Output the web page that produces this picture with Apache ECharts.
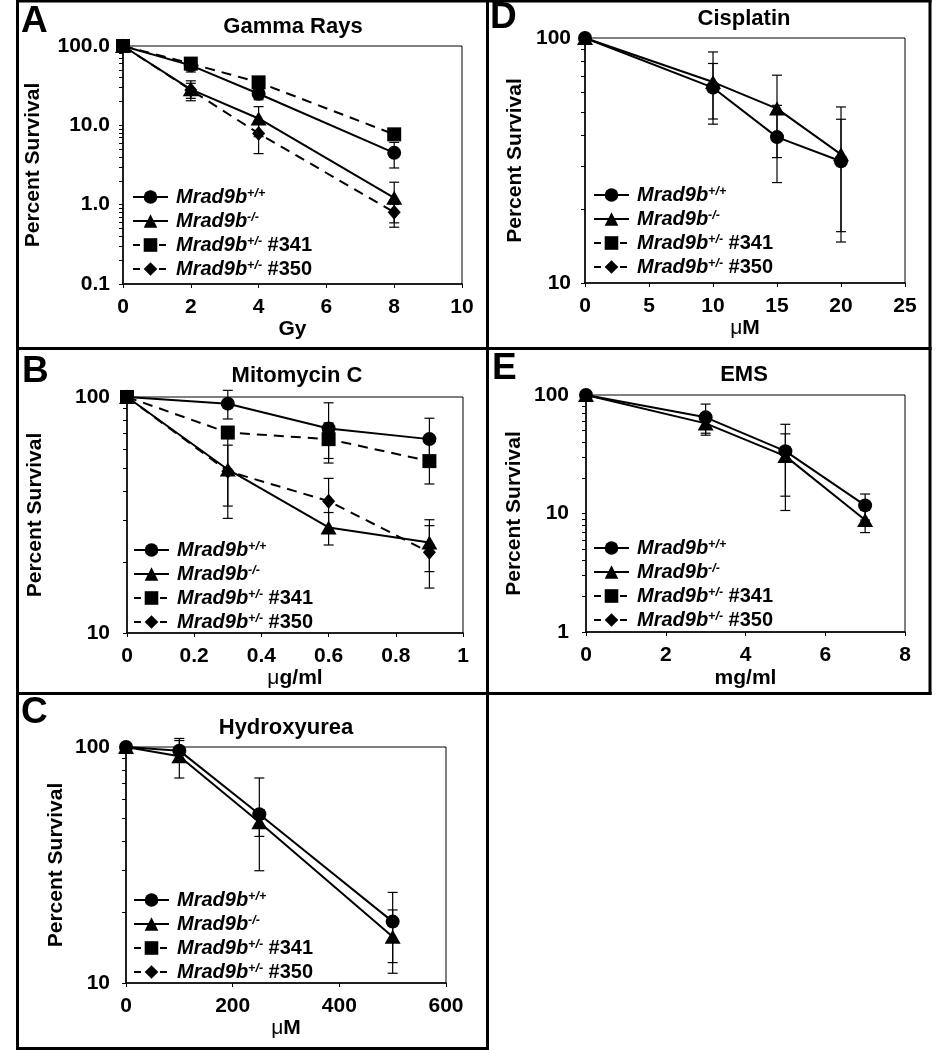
<!DOCTYPE html>
<html><head><meta charset="utf-8">
<script src="https://cdn.jsdelivr.net/npm/echarts@6/dist/echarts.min.js"></script>
<style>html,body{margin:0;padding:0;background:#fff}#c{width:944px;height:1050px}</style>
</head><body><div id="c"></div>
<script>
// ---------- data ----------
const seriesNames = ['Mrad9b+/+', 'Mrad9b-/-', 'Mrad9b+/- #341', 'Mrad9b+/- #350'];

// A: Gamma Rays
const gammaDose = [0, 2, 4, 8];
const gammaWT = [100, 57, 25, 4.5];
const gammaWTErr = [0, 10, 4, 1.6];
const gammaKO = [100, 28.4, 12.2, 1.22];
const gammaKOErr = [0, 8, 5, 0.7];
const gamma341 = [100, 60, 34.8, 7.7];
const gamma341Err = [0, 4, 3, 1];
const gamma350 = [100, 27.9, 7.9, 0.8];
const gamma350Err = [0, 6, 3.5, 0.21];
const gammaXTicks = [0, 2, 4, 6, 8, 10];
const gammaYTicks = [0.1, 1, 10, 100];

// B: Mitomycin C
const mmcDose = [0, 0.3, 0.6, 0.9];
const mmcWT = [100, 93.7, 73.5, 66.3];
const mmcWTErr = [0, 13, 21, 15];
const mmcKO = [100, 49.3, 28.0, 24.2];
const mmcKOErr = [0, 18.7, 4.4, 6];
const mmc341 = [100, 70.7, 66.3, 53.5];
const mmc341Err = [0, 4, 11.4, 10.7];
const mmc350 = [100, 48.5, 36.2, 22.0];
const mmc350Err = [0, 14, 9, 6.5];
const mmcXTicks = [0, 0.2, 0.4, 0.6, 0.8, 1];
const mmcYTicks = [10, 100];

// C: Hydroxyurea
const huDose = [0, 100, 250, 500];
const huWT = [100, 96.5, 51.9, 18.2];
const huWTErr = [0, 10, 22, 6];
const huKO = [100, 91.3, 48, 15.7];
const huKOErr = [0, 17.4, 6.2, 4.7];
const huXTicks = [0, 200, 400, 600];
const huYTicks = [10, 100];

// D: Cisplatin
const cisDose = [0, 10, 15, 20];
const cisWT = [100, 62.7, 39.4, 31.4];
const cisWTErr = [0, 16, 13.7, 15.2];
const cisKO = [100, 66.1, 51.5, 33.5];
const cisKOErr = [0, 21.6, 19, 18.8];
const cisXTicks = [0, 5, 10, 15, 20, 25];
const cisYTicks = [10, 100];

// E: EMS
const emsDose = [0, 3, 5, 7];
const emsWT = [100, 64.8, 33.6, 11.7];
const emsWTErr = [0, 19, 23, 2.9];
const emsKO = [100, 57.6, 30.5, 8.8];
const emsKOErr = [0, 10, 16.5, 1.9];
const emsXTicks = [0, 2, 4, 6, 8];
const emsYTicks = [1, 10, 100];

// ---------- layout ----------
const FONT = 'Liberation Sans, Arial, Helvetica, sans-serif';
const panels = [
  { letter: 'A', title: 'Gamma Rays', xName: 'Gy', x: gammaDose, xTicks: gammaXTicks, yTicks: gammaYTicks, yFmt: 1,
    ys: [gammaWT, gammaKO, gamma341, gamma350], errs: [gammaWTErr, gammaKOErr, gamma341Err, gamma350Err],
    grid: { left: 123, top: 46, width: 339, height: 238 }, titlePos: [293, 26.5], letterPos: [21, 21.5],
    legend: [132, 187], yLabelMargin: 13, yNameGap: 79, xNameGap: 34 },
  { letter: 'B', title: 'Mitomycin C', xName: '{mu|μ}g/ml', x: mmcDose, xTicks: mmcXTicks, yTicks: mmcYTicks, yFmt: 0,
    ys: [mmcWT, mmcKO, mmc341, mmc350], errs: [mmcWTErr, mmcKOErr, mmc341Err, mmc350Err],
    grid: { left: 127, top: 397, width: 336, height: 236 }, titlePos: [297, 376], letterPos: [22, 372],
    legend: [133, 540], yLabelMargin: 17, yNameGap: 81, xNameGap: 35 },
  { letter: 'C', title: 'Hydroxyurea', xName: '{mu|μ}M', x: huDose, xTicks: huXTicks, yTicks: huYTicks, yFmt: 0,
    ys: [huWT, huKO, null, null], errs: [huWTErr, huKOErr, null, null],
    grid: { left: 126, top: 747, width: 320, height: 236 }, titlePos: [286, 728], letterPos: [21, 713],
    legend: [133, 890], yLabelMargin: 16, yNameGap: 59, xNameGap: 35 },
  { letter: 'D', title: 'Cisplatin', xName: '{mu|μ}M', x: cisDose, xTicks: cisXTicks, yTicks: cisYTicks, yFmt: 0,
    ys: [cisWT, cisKO, null, null], errs: [cisWTErr, cisKOErr, null, null],
    grid: { left: 585, top: 38, width: 320, height: 245 }, titlePos: [744, 19], letterPos: [490, 18],
    legend: [593, 185], yLabelMargin: 14, yNameGap: 59, xNameGap: 31 },
  { letter: 'E', title: 'EMS', xName: 'mg/ml', x: emsDose, xTicks: emsXTicks, yTicks: emsYTicks, yFmt: 0,
    ys: [emsWT, emsKO, null, null], errs: [emsWTErr, emsKOErr, null, null],
    grid: { left: 586, top: 395, width: 319, height: 237 }, titlePos: [744, 375], letterPos: [492, 369],
    legend: [593, 538], yLabelMargin: 17, yNameGap: 61, xNameGap: 36 }
];

const symbols = [
  { symbol: 'circle', size: 14 },
  { symbol: 'triangle', size: [16, 14] },
  { symbol: 'rect', size: 14 },
  { symbol: 'diamond', size: [13, 15] }
];
const dashed = [false, false, true, true];
const drawOrder = [1, 0, 2, 3]; // KO, WT, #341, #350

function minorLogTicks(lo, hi) {
  const out = [];
  for (let d = lo; d < hi * 0.999; d *= 10) {
    for (let m = 1; m <= 9; m++) out.push(+(d * m).toPrecision(3));
  }
  out.push(hi);
  return out;
}

function legendFormatter(name) {
  const m = name.match(/^(Mrad9b)([+\-]\/[+\-])(.*)$/);
  if (!m) return name;
  return '{i|' + m[1] + '}{s|' + m[2] + '}' + (m[3] ? '{n|' + m[3] + '}' : '');
}

const option = {
  animation: false,
  backgroundColor: '#fff',
  grid: [], xAxis: [], yAxis: [], series: [], legend: [], graphic: []
};

panels.forEach((p, pi) => {
  option.grid.push(Object.assign({ show: true, borderColor: '#000', borderWidth: 1, backgroundColor: 'transparent', containLabel: false }, p.grid));
  const xt = p.xTicks;
  option.xAxis.push({
    gridIndex: pi, type: 'value', min: xt[0], max: xt[xt.length - 1], interval: xt[1] - xt[0],
    name: p.xName, nameLocation: 'middle', nameGap: p.xNameGap,
    nameTextStyle: { fontFamily: FONT, fontSize: 21, fontWeight: 'bold', color: '#000',
      rich: { mu: { fontFamily: FONT, fontSize: 21, fontWeight: 'normal', color: '#000' } } },
    axisLine: { show: true, onZero: false, lineStyle: { color: '#000', width: 1.5 } },
    axisTick: { show: true, inside: false, length: 4, lineStyle: { color: '#000', width: 1 } },
    axisLabel: { margin: 13, fontFamily: FONT, fontSize: 21, fontWeight: 'bold', color: '#000',
      formatter: v => String(+v.toFixed(2)) },
    splitLine: { show: false }
  });
  const yt = p.yTicks;
  option.yAxis.push({
    gridIndex: pi, type: 'log', logBase: 10, min: yt[0], max: yt[yt.length - 1],
    name: 'Percent Survival', nameLocation: 'middle', nameRotate: 90, nameGap: p.yNameGap,
    nameTextStyle: { fontFamily: FONT, fontSize: 21, fontWeight: 'bold', color: '#000' },
    axisLine: { show: true, onZero: false, lineStyle: { color: '#000', width: 1.5 } },
    axisTick: { show: true, inside: false, length: 4, lineStyle: { color: '#000', width: 1 },
      customValues: minorLogTicks(yt[0], yt[yt.length - 1]) },
    axisLabel: { margin: p.yLabelMargin, fontFamily: FONT, fontSize: 21, fontWeight: 'bold', color: '#000',
      customValues: yt,
      formatter: v => p.yFmt ? Number(v).toFixed(1) : String(Math.round(v)) },
    splitLine: { show: false }, minorTick: { show: false }
  });

  // error bars
  const errData = [];
  p.ys.forEach((ys, si) => {
    if (!ys) return;
    ys.forEach((v, j) => {
      const e = p.errs[si][j];
      if (e > 0) errData.push([p.x[j], Math.max(v - e, 1e-6), v + e]);
    });
  });
  option.series.push({
    type: 'custom', xAxisIndex: pi, yAxisIndex: pi, silent: true, z: 1, clip: false,
    encode: { x: 0, y: [1, 2] },
    data: errData,
    renderItem: (params, api) => {
      const x = api.value(0), lo = api.value(1), hi = api.value(2);
      const a = api.coord([x, hi]), b = api.coord([x, lo]);
      const w = 5;
      const st = { stroke: '#000', lineWidth: 1.2 };
      return { type: 'group', children: [
        { type: 'line', shape: { x1: a[0], y1: a[1], x2: b[0], y2: b[1] }, style: st },
        { type: 'line', shape: { x1: a[0] - w, y1: a[1], x2: a[0] + w, y2: a[1] }, style: st },
        { type: 'line', shape: { x1: b[0] - w, y1: b[1], x2: b[0] + w, y2: b[1] }, style: st }
      ] };
    }
  });

  drawOrder.forEach((si, k) => {
    const ys = p.ys[si];
    option.series.push({
      type: 'line', name: seriesNames[si], xAxisIndex: pi, yAxisIndex: pi, z: 2 + k, clip: false,
      data: ys ? ys.map((v, j) => [p.x[j], v]) : [],
      symbol: symbols[si].symbol, symbolSize: symbols[si].size, showSymbol: true,
      lineStyle: { color: '#000', width: 2, type: dashed[si] ? [10, 7] : 'solid' },
      itemStyle: { color: '#000', borderWidth: 0 },
      emphasis: { disabled: true }
    });
  });

  option.legend.push({
    orient: 'vertical', left: p.legend[0], top: p.legend[1], padding: 0,
    itemWidth: 35, itemHeight: 17, itemGap: 4, selectedMode: false,
    data: seriesNames.map((n, i) => ({ name: n,
      lineStyle: dashed[i] ? { type: [7, 19], width: 2, color: '#000' } : { type: 'solid', width: 2, color: '#000' } })),
    formatter: legendFormatter,
    textStyle: { fontFamily: FONT, fontSize: 20, fontWeight: 'bold', color: '#000', padding: [0, 0, 0, 3],
      rich: {
        i: { fontFamily: FONT, fontSize: 20, fontWeight: 'bold', fontStyle: 'italic', color: '#000', lineHeight: 20 },
        s: { fontFamily: FONT, fontSize: 12.5, fontWeight: 'bold', fontStyle: 'italic', color: '#000', lineHeight: 12, verticalAlign: 'top' },
        n: { fontFamily: FONT, fontSize: 20, fontWeight: 'bold', color: '#000', lineHeight: 20 }
      } }
  });

  option.graphic.push({ type: 'text', x: p.titlePos[0], y: p.titlePos[1], silent: true,
    style: { text: p.title, fill: '#000', font: 'bold 22px ' + FONT, textAlign: 'center', textVerticalAlign: 'middle' } });
  option.graphic.push({ type: 'text', x: p.letterPos[0], y: p.letterPos[1], silent: true,
    style: { text: p.letter, fill: '#000', font: 'bold 37px ' + FONT, textAlign: 'left', textVerticalAlign: 'middle' } });
});

// panel frames
const frameLines = [
  [17.5, 0, 17.5, 1050], [487.5, 0, 487.5, 1050], [930, 0, 930, 695],
  [16, 1, 931.5, 1], [16, 348.5, 931.5, 348.5], [16, 693.5, 931.5, 693.5], [16, 1048.5, 489, 1048.5]
];
frameLines.forEach(l => option.graphic.push({ type: 'line', silent: true,
  shape: { x1: l[0], y1: l[1], x2: l[2], y2: l[3] }, style: { stroke: '#000', lineWidth: 3 } }));

const chart = echarts.init(document.getElementById('c'), null, { renderer: 'canvas' });
chart.setOption(option);
</script></body></html>
